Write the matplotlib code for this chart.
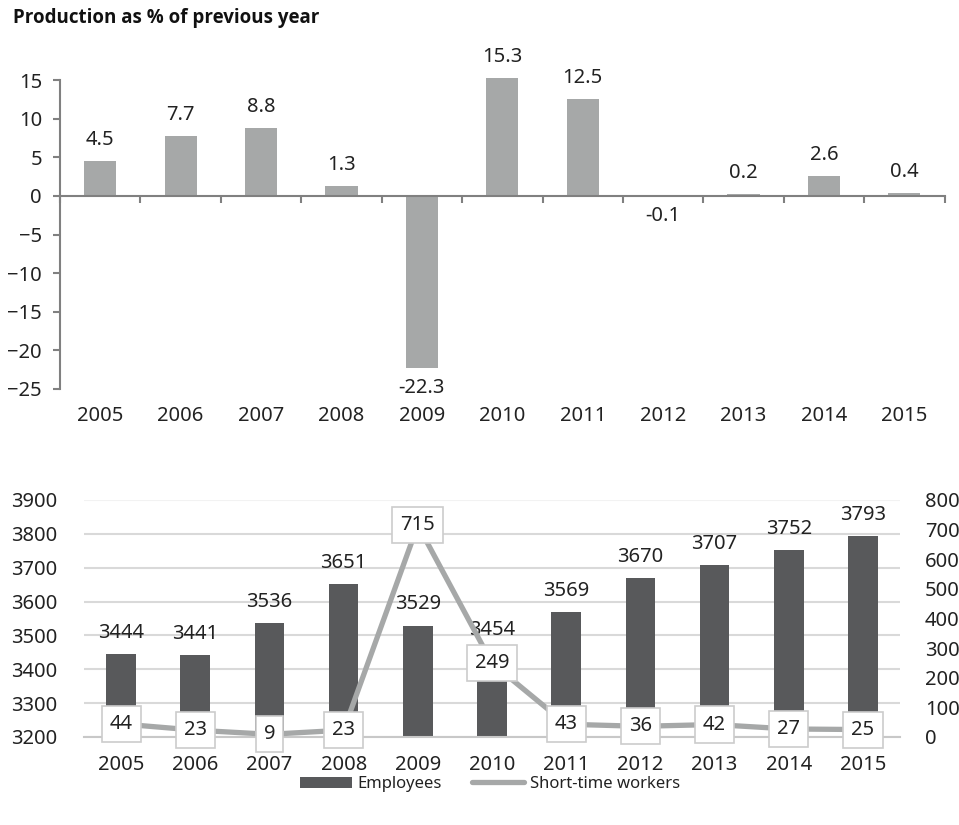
import matplotlib.pyplot as plt
import numpy as np
from matplotlib.patches import Patch
from matplotlib.lines import Line2D

plt.rcParams['font.family'] = ['Noto Sans', 'DejaVu Sans']
plt.rcParams['font.size'] = 14.5

years      = ['2005', '2006', '2007', '2008', '2009', '2010',
              '2011', '2012', '2013', '2014', '2015']
production = [4.5, 7.7, 8.8, 1.3, -22.3, 15.3, 12.5, -0.1, 0.2, 2.6, 0.4]
employees  = [3444, 3441, 3536, 3651, 3529, 3454, 3569, 3670, 3707, 3752, 3793]
short_time = [44, 23, 9, 23, 715, 249, 43, 36, 42, 27, 25]

light_grey = '#a6a8a8'
dark_grey  = '#58595b'
axis_grey  = '#808080'
text_col   = '#222222'

fig = plt.figure(figsize=(9.59, 8.25), dpi=100)
x = np.arange(len(years))

# --- top chart: production change
ax = fig.add_axes([0.0626, 0.5285, 0.985 - 0.0626, 0.903 - 0.5285])
bars = ax.bar(x, production, width=0.4, color=light_grey, clip_on=False)
for b, v in zip(bars, production):
    off = 8 if v >= 0 else -7
    ax.annotate(f'{v:g}', (b.get_x() + b.get_width() / 2, v),
                xytext=(0, off), textcoords='offset points', ha='center',
                va='bottom' if v >= 0 else 'top', color=text_col,
                annotation_clip=False)
ax.set_xlim(-0.5, len(years) - 0.5)
ax.set_ylim(-25, 15)
ax.set_yticks(range(-25, 16, 5))
for s in ['top', 'right']:
    ax.spines[s].set_visible(False)
ax.spines['bottom'].set_position(('data', 0))
ax.spines['bottom'].set_color(axis_grey)
ax.spines['left'].set_color(axis_grey)
ax.spines['bottom'].set_linewidth(1.5)
ax.spines['left'].set_linewidth(1.5)
ax.set_xticks(np.arange(-0.5, len(years), 1.0))
ax.tick_params(axis='x', length=5, width=1.5, color=axis_grey, labelbottom=False)
ax.tick_params(axis='y', length=5, width=1.5, color=axis_grey, pad=8,
               labelcolor=text_col)

sec = ax.secondary_xaxis(0)
sec.set_xticks(x, years)
sec.tick_params(length=0, pad=12, labelcolor=text_col)
sec.spines['bottom'].set_visible(False)

fig.text(13 / 959, 1 - 18 / 825, 'Production as % of previous year',
         family=['Open Sans', 'DejaVu Sans'], fontsize=13.5,
         fontweight='bold', va='center', color='#111111')

# --- bottom chart: employees and short-time workers
ax1 = fig.add_axes([0.0876, 0.1067, 0.9385 - 0.0876, 0.394 - 0.1067])
emp_bars = ax1.bar(x, employees, width=0.4, color=dark_grey, zorder=2)
ax1.bar_label(emp_bars, padding=8, color=text_col)
ax1.set_xlim(-0.5, len(years) - 0.5)
ax1.set_ylim(3200, 3900)
ax1.set_yticks(range(3200, 3901, 100))
ax1.set_xticks(x, years)
ax1.grid(axis='y', color='#d9d9d9', linewidth=1.5, zorder=0)
ax1.set_axisbelow(True)
ax1.get_ygridlines()[-1].set_color('#f2f2f2')
for s in ['top', 'right', 'left']:
    ax1.spines[s].set_visible(False)
ax1.spines['bottom'].set_color('#c8c8c8')
ax1.spines['bottom'].set_linewidth(1.5)
ax1.tick_params(axis='x', length=0, pad=13, labelcolor=text_col)
ax1.tick_params(axis='y', length=0, pad=19, labelcolor=text_col)

ax2 = ax1.twinx()
ax2.plot(x, short_time, color=light_grey, linewidth=3.8, solid_capstyle='round')
for xi, v in zip(x, short_time):
    ax2.text(xi, v, str(v), ha='center', va='center', color=text_col,
             bbox=dict(boxstyle='square,pad=0.4', facecolor='white',
                       edgecolor='#cccccc', linewidth=1.2))
ax2.set_ylim(0, 800)
ax2.set_yticks(range(0, 801, 100))
for s in ['top', 'right', 'left', 'bottom']:
    ax2.spines[s].set_visible(False)
ax2.tick_params(axis='y', length=0, pad=18, labelcolor=text_col)

handles = [Patch(facecolor=dark_grey, edgecolor='none'),
           Line2D([], [], color=light_grey, linewidth=3.8, solid_capstyle='round')]
fig.legend(handles, ['Employees', 'Short-time workers'], ncol=2,
           loc='center', bbox_to_anchor=(490 / 959, 1 - 784 / 825),
           frameon=False, fontsize=12, handlelength=3.1, handleheight=0.66,
           handletextpad=0.35, columnspacing=1.8, labelcolor=text_col)

fig.savefig('out.png', dpi=100)
